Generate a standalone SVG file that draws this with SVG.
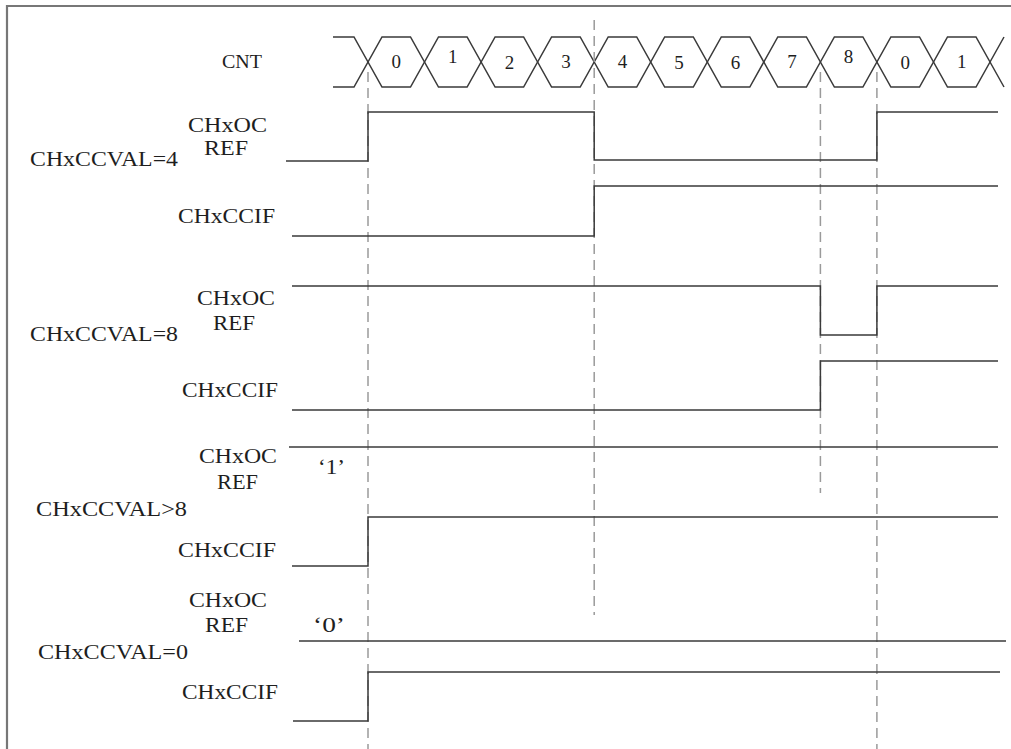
<svg xmlns="http://www.w3.org/2000/svg" width="1011" height="749" viewBox="0 0 1011 749">
<style>
  text { font-family: "Liberation Serif", "Times New Roman", serif; font-size: 21px; fill: #1e1e1e; }
  .dig { text-anchor: middle; font-size: 19px; }
  .sig { fill: none; stroke: #3a3a3a; stroke-width: 1.5; }
  .dash { fill: none; stroke: #9a9a9a; stroke-width: 1.5; stroke-dasharray: 10 6; }
  .frame { fill: none; stroke: #777; stroke-width: 2.2; }
</style>
<rect width="1011" height="749" fill="#fff"/>
<path class="frame" d="M7,749 V6 H1011"/>

<g id="cnt">
  <text x="222" y="68" textLength="40" lengthAdjust="spacingAndGlyphs" style="font-size:19px">CNT</text>
  <path class="sig" d="M333,37 H354 L382,87 H410.5 L438.5,37 H467.1 L495.1,87 H523.6 L551.6,37 H580.2 L608.2,87 H636.7 L664.7,37 H693.3 L721.3,87 H749.8 L777.8,37 H806.4 L834.4,87 H862.9 L890.9,37 H919.5 L947.5,87 H976 L1004,37"/>
  <path class="sig" d="M333,87 H354 L382,37 H410.5 L438.5,87 H467.1 L495.1,37 H523.6 L551.6,87 H580.2 L608.2,37 H636.7 L664.7,87 H693.3 L721.3,37 H749.8 L777.8,87 H806.4 L834.4,37 H862.9 L890.9,87 H919.5 L947.5,37 H976 L1004,87"/>
  <text class="dig" x="396.3" y="68">0</text>
  <text class="dig" x="452.8" y="63">1</text>
  <text class="dig" x="509.4" y="69">2</text>
  <text class="dig" x="565.9" y="68">3</text>
  <text class="dig" x="622.5" y="68">4</text>
  <text class="dig" x="679" y="69">5</text>
  <text class="dig" x="735.6" y="69">6</text>
  <text class="dig" x="792.1" y="68">7</text>
  <text class="dig" x="848.6" y="63">8</text>
  <text class="dig" x="905.2" y="69">0</text>
  <text class="dig" x="961.8" y="68">1</text>
</g>

<g id="connectors">
  <line class="dash" x1="368" y1="72" x2="368" y2="749"/>
  <line class="dash" x1="594.2" y1="20" x2="594.2" y2="615"/>
  <line class="dash" x1="820.4" y1="72" x2="820.4" y2="493"/>
  <line class="dash" x1="876.9" y1="72" x2="876.9" y2="749"/>
</g>

<g id="case-eq4">
  <text x="30" y="166" textLength="148" lengthAdjust="spacingAndGlyphs">CHxCCVAL=4</text>
  <text x="188" y="132" textLength="79" lengthAdjust="spacingAndGlyphs">CHxOC</text>
  <text x="204" y="155" textLength="44" lengthAdjust="spacingAndGlyphs">REF</text>
  <text x="178" y="223" textLength="97" lengthAdjust="spacingAndGlyphs">CHxCCIF</text>
  <path class="sig" d="M286,161 H368 V112 H594.2 V160 H876.9 V112 H998"/>
  <path class="sig" d="M292,236 H594.2 V186 H998"/>
</g>

<g id="case-eq8">
  <text x="30" y="341" textLength="148" lengthAdjust="spacingAndGlyphs">CHxCCVAL=8</text>
  <text x="197" y="305" textLength="78" lengthAdjust="spacingAndGlyphs">CHxOC</text>
  <text x="213" y="330" textLength="42" lengthAdjust="spacingAndGlyphs">REF</text>
  <text x="182" y="397" textLength="96" lengthAdjust="spacingAndGlyphs">CHxCCIF</text>
  <path class="sig" d="M292,286 H820.4 V335 H876.9 V286 H998"/>
  <path class="sig" d="M292,410 H820.4 V361 H998"/>
</g>

<g id="case-gt8">
  <text x="36" y="516" textLength="151" lengthAdjust="spacingAndGlyphs">CHxCCVAL&gt;8</text>
  <text x="199" y="463" textLength="78" lengthAdjust="spacingAndGlyphs">CHxOC</text>
  <text x="217" y="489" textLength="41" lengthAdjust="spacingAndGlyphs">REF</text>
  <text x="318" y="474" textLength="27" lengthAdjust="spacingAndGlyphs">‘1’</text>
  <text x="178" y="557" textLength="98" lengthAdjust="spacingAndGlyphs">CHxCCIF</text>
  <path class="sig" d="M289,447 H998"/>
  <path class="sig" d="M292,566 H368 V517 H998"/>
</g>

<g id="case-eq0">
  <text x="38" y="659" textLength="150" lengthAdjust="spacingAndGlyphs">CHxCCVAL=0</text>
  <text x="189" y="607" textLength="78" lengthAdjust="spacingAndGlyphs">CHxOC</text>
  <text x="205" y="632" textLength="43" lengthAdjust="spacingAndGlyphs">REF</text>
  <text x="313" y="632" textLength="32" lengthAdjust="spacingAndGlyphs">‘0’</text>
  <text x="182" y="699" textLength="96" lengthAdjust="spacingAndGlyphs">CHxCCIF</text>
  <path class="sig" d="M299,641 H1006"/>
  <path class="sig" d="M293,721 H368 V672 H1000"/>
</g>
</svg>
